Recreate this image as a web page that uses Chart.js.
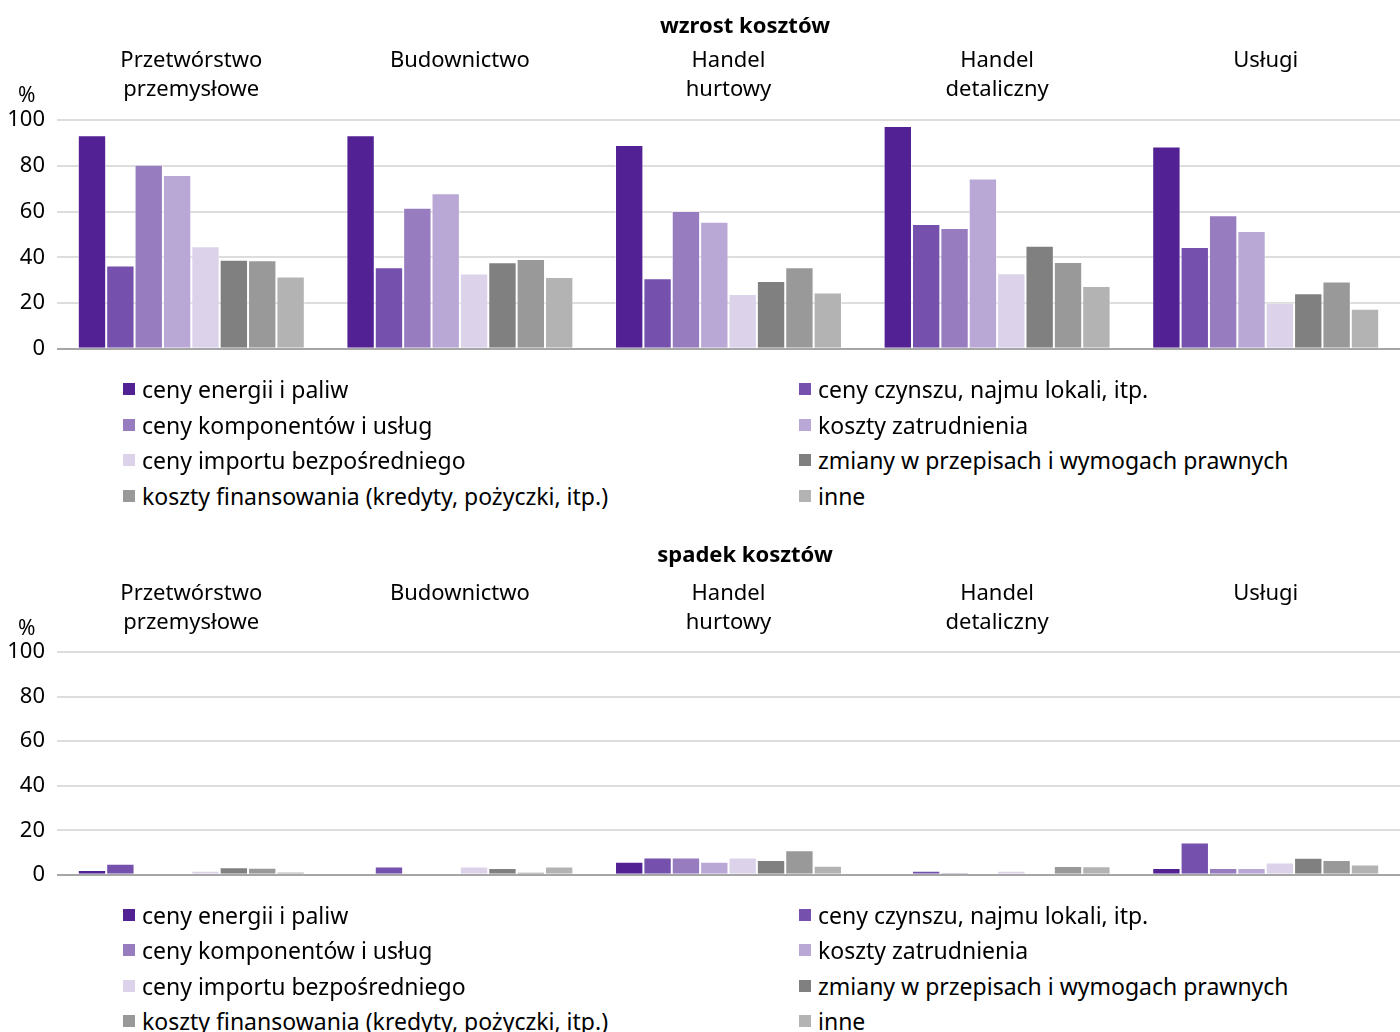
<!DOCTYPE html>
<html><head><meta charset="utf-8">
<script src="https://cdn.jsdelivr.net/npm/chart.js@4/dist/chart.umd.min.js"></script>
<style>
html,body{margin:0;padding:0;background:#fff;}
body{width:1400px;height:1032px;position:relative;overflow:hidden;font-family:'Noto Sans',sans-serif;color:#000;}
.panel{position:absolute;left:0;width:1400px;}
.ttl{position:absolute;left:0;width:1490px;text-align:center;font-size:22px;font-weight:bold;line-height:30px;height:30px;}
.pct{position:absolute;left:18px;font-size:21px;line-height:22px;height:22px;}
.li{position:absolute;font-size:23px;line-height:30px;height:30px;white-space:nowrap;display:flex;align-items:center;}
.sw{width:12px;height:12px;margin-right:7px;flex:none;}
</style></head><body>
<div class="panel" style="top:0;height:374px"><canvas id="c1"></canvas></div>
<div class="panel" style="top:533px;height:367px"><canvas id="c2"></canvas></div>
<div class="ttl" id="t1" style="top:9px"></div>
<div class="ttl" id="t2" style="top:538px"></div>
<div class="pct" style="top:83px">%</div>
<div class="pct" style="top:616px">%</div>
<div id="leg1"></div>
<div id="leg2"></div>
<script>
const categories = [['Przetwórstwo','przemysłowe'],['Budownictwo',''],['Handel','hurtowy'],['Handel','detaliczny'],['Usługi','']];
const seriesNames = ['ceny energii i paliw','ceny czynszu, najmu lokali, itp.','ceny komponentów i usług','koszty zatrudnienia','ceny importu bezpośredniego','zmiany w przepisach i wymogach prawnych','koszty finansowania (kredyty, pożyczki, itp.)','inne'];
const yTicks = [0,20,40,60,80,100];
const titleUp = 'wzrost kosztów';
const titleDown = 'spadek kosztów';

// wzrost kosztów (%)
const upEnergia      = [93.4, 93.4, 89.1, 97.4, 88.5];
const upCzynsz       = [36.4, 35.7, 30.9, 54.6, 44.5];
const upKomponenty   = [80.5, 61.7, 60.3, 52.8, 58.4];
const upZatrudnienie = [76.0, 68.0, 55.5, 74.5, 51.5];
const upImport       = [44.8, 32.9, 24.0, 33.0, 20.1];
const upPrzepisy     = [38.9, 37.8, 29.6, 45.1, 24.3];
const upFinansowanie = [38.7, 39.3, 35.7, 38.0, 29.4];
const upInne         = [31.6, 31.4, 24.6, 27.5, 17.5];

// spadek kosztów (%)
const downEnergia      = [2.1, 0, 5.9, 0, 3.1];
const downCzynsz       = [5.0, 3.7, 7.8, 1.8, 14.5];
const downKomponenty   = [0, 0.5, 7.8, 1.0, 3.1];
const downZatrudnienie = [0, 0, 5.9, 0, 3.1];
const downImport       = [1.8, 3.7, 7.8, 1.8, 5.5];
const downPrzepisy     = [3.4, 3.1, 6.6, 0, 7.6];
const downFinansowanie = [3.2, 1.4, 11.0, 4.0, 6.6];
const downInne         = [1.5, 3.7, 4.1, 3.8, 4.6];

const colors = ['#522194','#7551ad','#977dc0','#b9a8d6','#dcd3ea','#808080','#999999','#b3b3b3'];
const FONT = "'Noto Sans', sans-serif";

document.getElementById('t1').textContent = titleUp;
document.getElementById('t2').textContent = titleDown;

function makeChart(id, values, padTop, xPad) {
  return new Chart(document.getElementById(id), {
    type: 'bar',
    data: {
      labels: categories,
      datasets: values.map((v, i) => ({
        label: seriesNames[i], data: v, backgroundColor: colors[i],
        borderColor: 'rgba(255,255,255,0.45)', borderWidth: 1,
        categoryPercentage: 0.845, barPercentage: 1.0
      }))
    },
    options: {
      responsive: true, maintainAspectRatio: false, animation: false,
      layout: { padding: { top: padTop, right: 0, bottom: 0, left: 0 } },
      plugins: { legend: { display: false }, tooltip: { enabled: false }, title: { display: false } },
      scales: {
        x: { position: 'top', grid: { display: false, drawTicks: false }, border: { display: false },
             ticks: { color: '#000', padding: xPad, maxRotation: 0, autoSkip: false,
                      font: { family: FONT, size: 22, lineHeight: 1.32 } } },
        y: { min: 0, max: 100, border: { display: false },
             afterFit(s) { s.width = 57; },
             afterBuildTicks(s) { s.ticks = yTicks.map(v => ({ value: v })); },
             grid: { drawTicks: false, lineWidth: 2,
                     color: c => (c.tick && c.tick.value === 0) ? '#a6a6a6' : '#dddddd' },
             ticks: { color: '#000', padding: 12, font: { family: FONT, size: 22 } } }
      }
    }
  });
}

makeChart('c1', [upEnergia, upCzynsz, upKomponenty, upZatrudnienie, upImport, upPrzepisy, upFinansowanie, upInne], 31, 15.5);
makeChart('c2', [downEnergia, downCzynsz, downKomponenty, downZatrudnienie, downImport, downPrzepisy, downFinansowanie, downInne], 32, 14.5);

function legend(id, rowsY) {
  const host = document.getElementById(id);
  seriesNames.forEach((n, i) => {
    const row = Math.floor(i / 2), col = i % 2;
    const d = document.createElement('div');
    d.className = 'li';
    d.style.left = (col ? 799 : 123) + 'px';
    d.style.top = (rowsY[row] - 15) + 'px';
    d.innerHTML = '<span class="sw" style="background:' + colors[i] + '"></span>';
    d.appendChild(document.createTextNode(n));
    host.appendChild(d);
  });
}
legend('leg1', [389, 425, 460, 496]);
legend('leg2', [915, 950, 986, 1021]);
</script>
</body></html>
